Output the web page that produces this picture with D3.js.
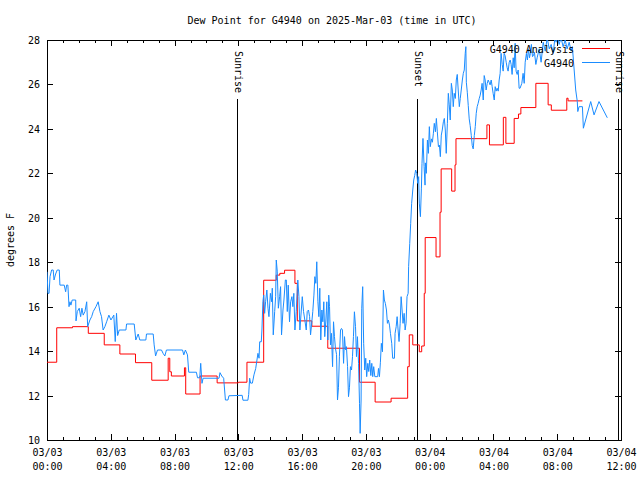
<!DOCTYPE html>
<html><head><meta charset="utf-8">
<script src="https://cdn.jsdelivr.net/npm/d3@7"></script>
<style>
body{margin:0;background:#fff}
svg{display:block}
text{font-family:"DejaVu Sans Mono",monospace;font-size:10px;fill:#000}
</style>
</head><body>
<svg id="c" width="640" height="480"></svg>
<script>
const title = "Dew Point for G4940 on 2025-Mar-03 (time in UTC)";
const yLabel = "degrees F";
const seriesNames = ["G4940 Analysis", "G4940"];
const seriesColors = ["#ff0000", "#1a8cff"];
const xTickHours = [0, 4, 8, 12, 16, 20, 24, 28, 32, 36];
const xTickDates = ["03/03","03/03","03/03","03/03","03/03","03/03","03/04","03/04","03/04","03/04"];
const xTickTimes = ["00:00","04:00","08:00","12:00","16:00","20:00","00:00","04:00","08:00","12:00"];
const yTicks = [10, 12, 14, 16, 18, 20, 22, 24, 26, 28];
const sunLabels = ["Sunrise", "Sunset", "Sunrise"];
const sunHours = [11.9, 23.18, 35.84];

// Analysis (step series): [hour since 03/03 00:00 UTC, value]
const analysis = [
[0,13.5],[0.61,15.05],[1.6,15.1],[2.59,14.8],[3.59,14.28],[4.57,13.87],[5.55,13.48],[6.57,12.69],
[7.6,13.68],[7.7,13.07],[7.8,12.88],[8.62,13.25],[8.7,12.07],[9.6,12.88],[10.67,12.57],[12.0,12.6],
[12.54,13.5],[13.59,17.19],[14.38,17.42],[14.6,17.5],[14.9,17.64],[15.55,17.05],[15.7,15.36],[16.61,15.12],
[17.61,14.13],[19.6,12.6],[20.58,11.71],[21.58,11.88],[22.62,13.3],[22.72,14.73],[22.94,14.28],[23.35,13.97],
[23.5,14.23],[23.66,16.6],[23.72,19.11],[24.4,18.24],[24.65,20.25],[24.72,22.2],[25.38,21.2],[25.59,22.38],
[25.65,23.56],[27.59,24.18],[27.75,23.28],[28.62,24.52],[28.78,23.35],[29.3,24.47],[29.57,24.67],[29.72,24.96],
[30.66,26.05],[31.43,25.08],[31.63,24.84],[32.6,25.38],[32.68,25.26],[33.58,25.26]
];

// Observations: [hour, value]
const observed = [
[0.00,17.57],[0.06,16.6],[0.13,16.6],[0.19,17.35],[0.29,17.65],[0.39,17.65],[0.44,17.2],[0.54,17.47],[0.64,17.65],[0.77,17.65],
[0.81,16.97],[1.08,16.97],[1.17,16.67],[1.23,16.97],[1.31,16.97],[1.38,16.0],[1.44,16.22],[1.50,16.07],[1.58,16.3],[1.80,16.3],
[1.82,15.36],[1.90,15.78],[2.02,15.93],[2.11,15.55],[2.19,15.93],[2.27,15.62],[2.38,15.78],[2.49,16.22],[2.55,15.1],[2.69,15.4],
[2.80,15.55],[2.90,15.78],[3.07,16.0],[3.21,16.22],[3.32,15.78],[3.42,15.55],[3.52,14.95],[3.63,15.1],[3.74,15.32],[3.88,15.62],
[4.01,15.4],[4.19,15.62],[4.28,14.43],[4.36,15.7],[4.43,14.7],[4.53,14.95],[4.95,14.95],[4.99,15.22],[5.47,15.22],[5.57,14.5],
[5.72,14.77],[5.82,14.5],[6.20,14.5],[6.24,14.77],[6.66,14.77],[6.72,14.28],[6.81,13.78],[6.93,14.05],[7.18,14.05],[7.28,13.9],
[7.39,13.78],[7.49,14.05],[8.50,14.05],[8.58,13.83],[8.68,14.05],[8.81,13.83],[8.89,13.05],[9.37,13.05],[9.44,12.8],[9.58,12.8],
[9.64,13.45],[9.72,12.55],[9.79,12.78],[10.79,12.78],[10.85,13.03],[10.96,12.88],[11.08,12.78],[11.19,11.8],[11.35,11.8],[11.41,11.99],
[12.24,12.01],[12.29,11.79],[12.60,11.79],[12.65,12.05],[12.71,12.78],[12.77,12.56],[12.88,12.56],[12.98,12.93],[13.09,13.22],[13.23,13.9],
[13.30,13.68],[13.34,14.42],[13.44,14.42],[13.48,14.95],[13.54,16.22],[13.59,16.52],[13.65,15.7],[13.71,16.22],[13.79,16.75],[13.86,15.93],
[13.92,15.55],[14.01,16.6],[14.09,16.22],[14.13,16.83],[14.19,14.73],[14.28,15.78],[14.34,16.45],[14.38,18.1],[14.44,17.6],[14.51,15.93],
[14.59,16.45],[14.65,16.9],[14.71,14.73],[14.80,15.85],[14.86,16.3],[14.95,17.2],[15.01,17.2],[15.07,15.78],[15.13,16.97],[15.21,15.32],
[15.28,16.22],[15.36,16.45],[15.42,16.0],[15.48,16.6],[15.55,14.95],[15.63,15.78],[15.73,17.2],[15.80,16.45],[15.86,14.95],[15.95,15.85],
[16.01,16.45],[16.09,15.78],[16.17,15.4],[16.26,14.95],[16.32,15.78],[16.40,15.85],[16.47,15.55],[16.53,14.73],[16.59,15.17],[16.67,15.78],
[16.74,16.52],[16.80,17.35],[16.86,17.05],[16.92,18.02],[16.99,16.22],[17.05,15.55],[17.11,16.83],[17.17,14.5],[17.24,15.85],[17.30,15.32],
[17.36,16.22],[17.42,14.65],[17.49,15.4],[17.55,16.22],[17.61,14.5],[17.67,16.52],[17.72,16.0],[17.78,14.28],[17.84,14.8],[17.91,13.3],
[17.97,15.32],[18.03,14.65],[18.09,14.13],[18.16,13.85],[18.22,11.8],[18.28,12.35],[18.34,13.77],[18.41,14.95],[18.47,15.02],[18.53,14.95],
[18.60,13.45],[18.66,14.65],[18.72,14.06],[18.78,14.2],[18.85,13.3],[18.91,11.95],[18.97,12.35],[19.03,13.3],[19.10,13.15],[19.16,13.75],
[19.22,14.65],[19.28,15.77],[19.35,15.1],[19.41,13.75],[19.47,14.65],[19.54,13.45],[19.60,11.65],[19.64,10.3],[19.70,11.8],[19.74,15.93],
[19.80,16.9],[19.86,14.35],[19.93,13.15],[19.99,13.68],[20.05,12.85],[20.12,13.45],[20.18,13.08],[20.24,13.6],[20.31,12.9],[20.37,13.45],
[20.43,12.85],[20.49,13.3],[20.56,12.85],[20.74,12.85],[20.79,13.22],[20.85,12.85],[20.91,13.5],[20.97,14.35],[21.04,13.97],[21.10,16.75],
[21.16,16.3],[21.22,16.15],[21.29,15.85],[21.35,15.25],[21.41,15.4],[21.48,15.17],[21.54,14.8],[21.62,14.35],[21.68,13.68],[21.79,13.68],
[21.83,14.8],[21.90,15.1],[21.96,15.55],[22.02,14.95],[22.08,14.43],[22.15,15.25],[22.21,16.45],[22.27,15.85],[22.33,15.25],[22.40,15.7],
[22.46,14.95],[22.52,15.25],[22.58,16.45],[22.65,16.6],[22.68,17.8],[22.75,18.85],[22.81,19.75],[22.87,20.65],[22.94,21.25],[23.00,21.7],
[23.06,21.9],[23.12,22.15],[23.19,22.0],[23.25,21.55],[23.31,21.85],[23.35,20.66],[23.42,20.05],[23.48,21.3],[23.52,22.45],[23.58,23.57],
[23.65,22.3],[23.71,21.47],[23.73,22.47],[23.79,22.0],[23.86,23.5],[23.92,22.9],[23.98,24.1],[24.04,23.2],[24.11,23.55],[24.17,23.4],
[24.23,23.78],[24.29,24.25],[24.36,23.87],[24.42,24.47],[24.48,23.87],[24.55,23.2],[24.61,23.27],[24.67,22.75],[24.73,23.72],[24.79,23.95],
[24.86,24.32],[24.92,24.47],[24.98,23.95],[25.04,22.9],[25.11,24.25],[25.17,25.6],[25.23,25.08],[25.29,24.4],[25.36,26.05],[25.42,25.75],
[25.48,25.0],[25.54,25.6],[25.61,25.37],[25.67,26.2],[25.73,26.45],[25.79,25.75],[25.86,25.0],[25.92,25.37],[25.98,25.75],[26.05,26.2],
[26.11,26.5],[26.17,26.65],[26.23,27.4],[26.27,27.7],[26.30,26.1],[26.36,25.65],[26.42,25.05],[26.48,24.45],[26.54,24.15],[26.61,23.7],
[26.67,23.25],[26.73,23.1],[26.80,23.7],[26.86,24.1],[26.92,24.7],[26.98,25.0],[27.04,25.15],[27.11,25.37],[27.17,25.52],[27.23,25.75],
[27.29,26.05],[27.36,25.3],[27.42,26.4],[27.48,26.2],[27.54,25.75],[27.61,26.05],[27.67,26.2],[27.73,26.1],[27.79,25.98],[27.86,26.2],
[27.92,25.9],[27.98,25.6],[28.05,25.3],[28.11,25.9],[28.17,25.7],[28.23,25.83],[28.30,25.7],[28.36,26.2],[28.42,26.5],[28.48,27.4],
[28.55,26.9],[28.61,26.6],[28.67,27.4],[28.73,27.3],[28.80,27.0],[28.86,26.75],[28.92,26.6],[28.99,27.0],[29.05,27.1],[29.11,26.9],
[29.17,26.45],[29.24,27.2],[29.30,26.75],[29.36,27.85],[29.42,26.6],[29.49,26.45],[29.55,26.65],[29.61,25.83],[29.67,25.83],[29.78,26.05],
[29.86,26.5],[29.93,26.05],[29.99,27.0],[30.07,27.4],[30.13,27.1],[30.20,27.6],[30.26,27.2],[30.32,27.4],[30.38,27.8],[30.45,27.25],
[30.51,27.3],[30.57,27.45],[30.66,26.9],[30.74,27.2],[30.87,27.6],[30.99,27.0],[31.12,27.9],[31.25,27.5],[31.37,28.1],[31.50,27.6],
[31.62,27.8],[31.75,27.4],[31.87,28.2],[31.93,27.9],[31.99,28.2],[32.12,27.8],[32.24,28.1],[32.37,27.7],[32.50,28.0],[32.62,27.6],
[32.75,27.9],[32.87,27.5],[32.95,27.7],[33.16,25.75],[33.26,25.23],[33.29,24.78],[33.37,25.0],[33.58,25.0],[33.64,24.03],[34.10,25.23],
[34.31,24.63],[34.62,25.23],[35.14,24.5]
];

const svg = d3.select("#c");
const x = d3.scaleLinear().domain([0, 36]).range([47, 621]);
const y = d3.scaleLinear().domain([10, 28]).range([440, 40]);

svg.append("defs").append("clipPath").attr("id","clip")
  .append("rect").attr("x",47).attr("y",40).attr("width",575).attr("height",401);

// title
svg.append("text").attr("x", 332).attr("y", 24).attr("text-anchor","middle").text(title);
// y label
svg.append("text").attr("transform","translate(14,240) rotate(-90)").attr("text-anchor","middle").text(yLabel);

const minorHours = d3.range(0, 37).filter(h => h % 4 !== 0);
function styleAxis(g){ g.select(".domain").remove(); g.selectAll("line").attr("stroke","#000").attr("shape-rendering","crispEdges"); g.selectAll("text").remove(); }

svg.append("g").attr("transform","translate(0,440)").call(d3.axisBottom(x).tickValues(xTickHours).tickSize(-6)).call(styleAxis);
svg.append("g").attr("transform","translate(0,440)").call(d3.axisBottom(x).tickValues(minorHours).tickSize(-3)).call(styleAxis);
svg.append("g").attr("transform","translate(0,40)").call(d3.axisTop(x).tickValues(xTickHours).tickSize(-6)).call(styleAxis);
svg.append("g").attr("transform","translate(0,40)").call(d3.axisTop(x).tickValues(minorHours).tickSize(-3)).call(styleAxis);
svg.append("g").attr("transform","translate(47,0)").call(d3.axisLeft(y).tickValues(yTicks).tickSize(-6)).call(styleAxis);
svg.append("g").attr("transform","translate(621,0)").call(d3.axisRight(y).tickValues(yTicks).tickSize(-6)).call(styleAxis);

// tick labels
xTickHours.forEach((h,i)=>{
  const t = svg.append("text").attr("text-anchor","middle");
  t.append("tspan").attr("x", x(h)+0.5).attr("y", 456).text(xTickDates[i]);
  t.append("tspan").attr("x", x(h)+0.5).attr("y", 470).text(xTickTimes[i]);
});
yTicks.forEach(v=>{
  svg.append("text").attr("x",40).attr("y", y(v)+0.5).attr("dy","0.35em").attr("text-anchor","end").text(v);
});

// frame
svg.append("rect").attr("x",47.5).attr("y",40.5).attr("width",574).attr("height",400)
  .attr("fill","none").attr("stroke","#000").attr("shape-rendering","crispEdges");

// sun lines
sunHours.forEach((h,i)=>{
  svg.append("line").attr("x1",x(h)+0.5).attr("x2",x(h)+0.5).attr("y1",99).attr("y2",440)
    .attr("stroke","#000").attr("shape-rendering","crispEdges");
  svg.append("text").attr("transform",`translate(${x(h)+1.5},51) rotate(90)`)
    .attr("dominant-baseline","central").text(sunLabels[i]);
});

const plot = svg.append("g").attr("clip-path","url(#clip)");
const lineStep = d3.line().x(d=>x(d[0])).y(d=>y(d[1])).curve(d3.curveStepAfter);
const lineLin = d3.line().x(d=>x(d[0])).y(d=>y(d[1]));
plot.append("path").attr("d", lineStep(analysis)).attr("fill","none").attr("stroke",seriesColors[0]).attr("stroke-width",1);
plot.append("path").attr("d", lineLin(observed)).attr("fill","none").attr("stroke",seriesColors[1]).attr("stroke-width",1);

// legend
seriesNames.forEach((n,i)=>{
  const yy = 48.5 + i*14;
  svg.append("text").attr("x",574).attr("y",yy+4).attr("text-anchor","end").text(n);
  svg.append("line").attr("x1",582).attr("x2",610).attr("y1",yy).attr("y2",yy)
    .attr("stroke",seriesColors[i]).attr("shape-rendering","crispEdges");
});
</script>
</body></html>
